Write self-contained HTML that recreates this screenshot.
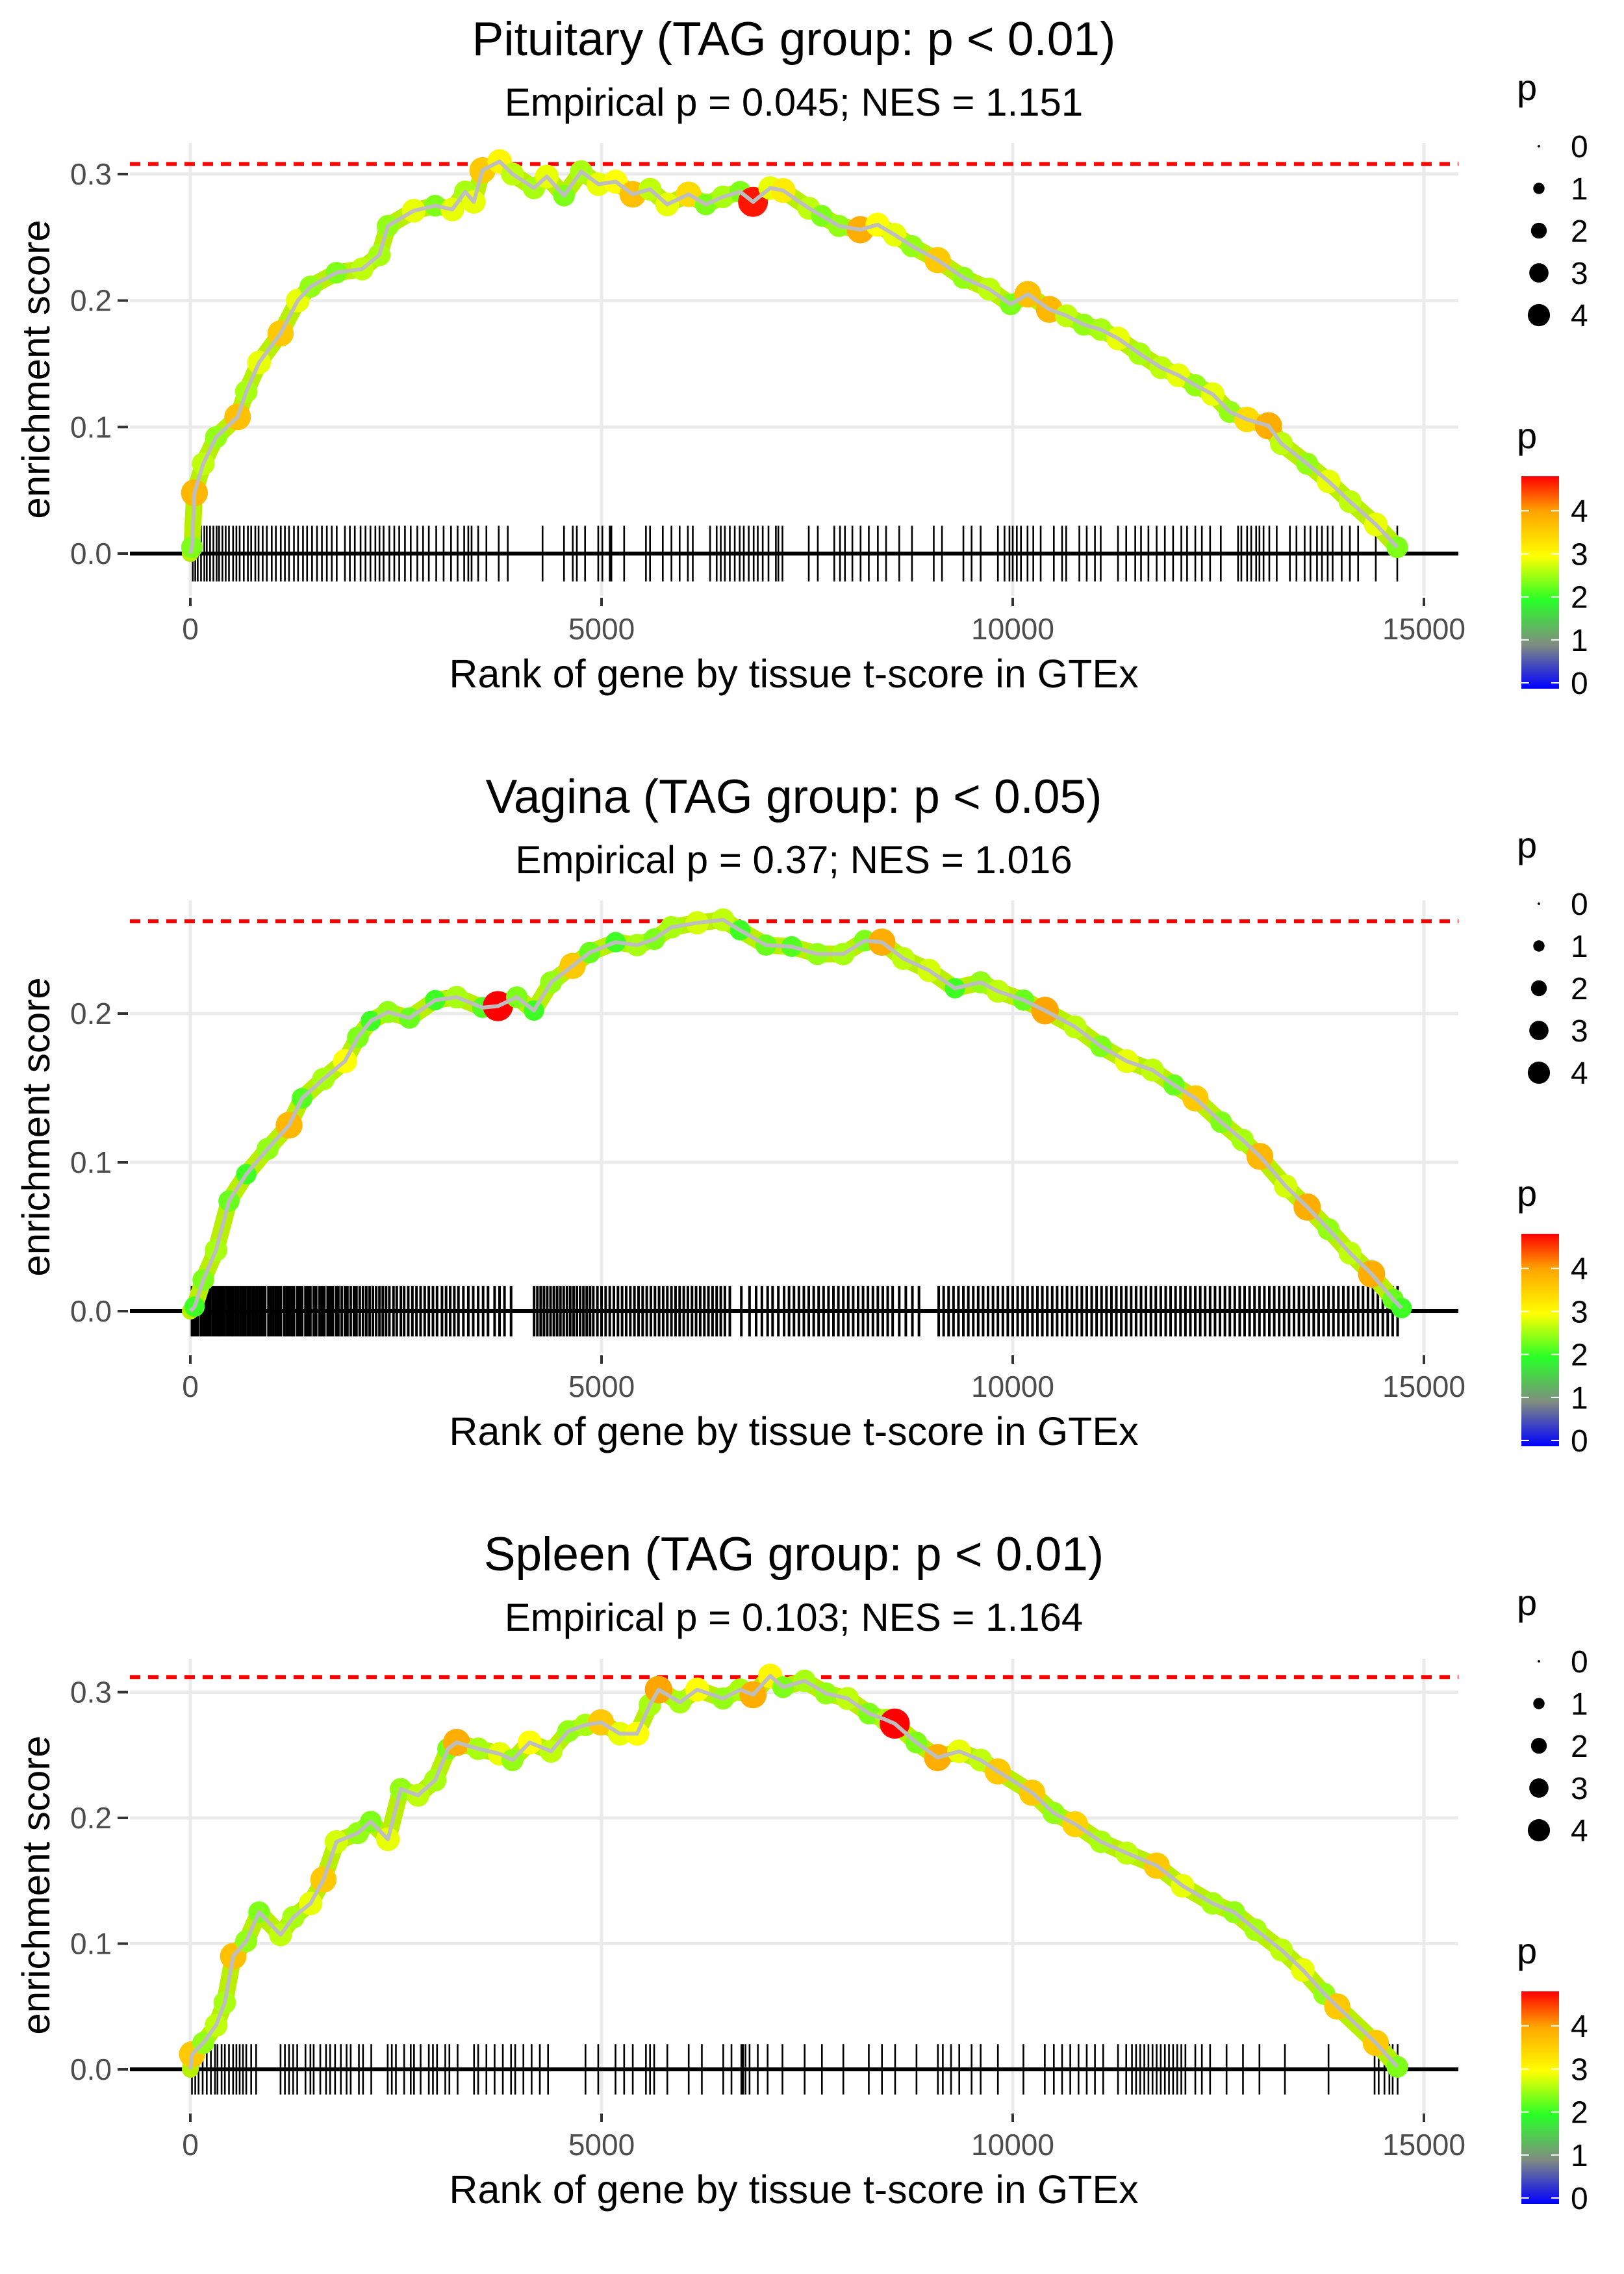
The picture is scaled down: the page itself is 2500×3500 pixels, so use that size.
<!DOCTYPE html>
<html><head><meta charset="utf-8"><style>
html,body{margin:0;padding:0;background:#fff}
svg{display:block;font-family:"Liberation Sans",sans-serif}
</style></head><body>
<svg id="fig" width="2500" height="3500" viewBox="0 0 2500 3500" xmlns="http://www.w3.org/2000/svg"></svg>
<script>
// ---------- data ----------
const titles = ["Pituitary (TAG group: p < 0.01)","Vagina (TAG group: p < 0.05)","Spleen (TAG group: p < 0.01)"];
const subtitles = ["Empirical p = 0.045; NES = 1.151","Empirical p = 0.37; NES = 1.016","Empirical p = 0.103; NES = 1.164"];
const maxES = [0.308, 0.262, 0.312];
const xTicks = [0,5000,10000,15000];
const yTicks1 = [0,0.1,0.2,0.3];
const yTicks2 = [0,0.1,0.2];
const yTicks3 = [0,0.1,0.2,0.3];

const rank1 = [20,50,157,313,575,680,836,1097,1306,1462,1776,2089,2298,2402,2716,2977,3186,3343,3447,3552,3761,3917,4178,4335,4544,4753,4962,5171,5380,5589,5798,6059,6268,6477,6686,6842,7051,7208,7521,7677,7886,8147,8356,8565,8774,9087,9401,9714,9975,10184,10445,10654,10863,11072,11281,11542,11804,12013,12222,12431,12640,12849,13110,13267,13580,13841,14102,14415,14676];
const es1 = [.005,.048,.071,.092,.108,.128,.151,.174,.2,.211,.222,.225,.236,.259,.271,.275,.272,.286,.278,.303,.310,.300,.289,.298,.283,.302,.292,.294,.284,.288,.276,.284,.276,.282,.286,.278,.289,.287,.273,.267,.259,.256,.260,.252,.243,.232,.218,.209,.197,.205,.193,.188,.181,.177,.170,.158,.147,.141,.133,.126,.112,.106,.101,.087,.071,.057,.041,.023,.005];
const pv1 = [2.4,3.8,2.7,2.5,3.7,2.6,2.9,3.6,2.9,2.5,2.4,2.7,2.6,2.5,2.9,2.4,2.9,2.6,2.9,3.6,3.1,2.7,2.6,2.9,2.4,2.6,2.9,3.0,3.7,2.7,2.9,3.4,2.4,2.6,2.4,4.7,2.9,3.2,2.7,2.4,2.5,3.9,3.0,2.9,2.5,3.6,2.5,2.7,2.4,3.7,3.8,2.7,2.5,2.6,2.9,2.6,2.7,2.9,2.5,2.9,2.5,3.4,3.9,2.7,2.5,2.9,2.7,2.9,2.4];
const hits1 = [30,60,90,130,170,200,240,280,320,350,390,430,470,520,560,600,650,700,740,790,830,880,930,990,1040,1100,1150,1200,1260,1310,1370,1420,1480,1540,1600,1660,1720,1780,1880,1940,2000,2070,2130,2190,2250,2300,2350,2420,2480,2540,2610,2680,2760,2830,2900,2990,3080,3170,3250,3330,3380,3420,3500,3600,3750,3860,4283,4544,4650,4700,4800,4960,5010,5100,5120,5275,5540,5590,5745,5850,5950,6050,6110,6320,6400,6450,6500,6560,6620,6680,6730,6790,6850,6900,6960,7030,7120,7150,7200,7520,7630,7830,7900,7960,8050,8150,8250,8360,8460,8620,8775,9040,9140,9400,9500,9610,9820,9900,9960,10000,10050,10100,10180,10250,10340,10500,10600,10650,10810,10900,11000,11070,11280,11380,11490,11560,11650,11750,11850,11950,12050,12120,12220,12300,12400,12530,12740,12780,12850,12900,12960,13000,13050,13120,13210,13370,13450,13550,13620,13700,13760,13830,13890,14000,14100,14200,14415,14676];

const rank2 = [52,157,313,470,680,940,1201,1358,1619,1880,2037,2194,2403,2664,2977,3238,3552,3740,3970,4178,4387,4648,4857,5171,5432,5641,5850,6163,6477,6686,6999,7312,7625,7939,8200,8409,8670,8983,9297,9610,9819,10132,10393,10759,11072,11386,11699,11960,12222,12535,12796,13005,13319,13580,13841,14102,14363,14624,14729];
const es2 = [.003,.021,.041,.074,.092,.109,.125,.143,.156,.168,.184,.195,.201,.197,.209,.211,.204,.205,.211,.202,.221,.232,.241,.248,.246,.250,.258,.261,.263,.256,.246,.245,.240,.240,.249,.248,.237,.229,.217,.221,.215,.209,.202,.191,.178,.168,.162,.152,.143,.127,.115,.104,.084,.070,.055,.039,.025,.008,.002];
const pv2 = [2.1,2.4,2.6,2.3,2.1,2.5,3.8,2.2,2.6,3.0,2.4,2.1,2.5,2.3,2.1,2.6,2.2,4.8,2.4,2.1,2.5,3.6,2.3,2.1,2.6,2.4,2.6,2.8,2.7,2.1,2.3,2.2,2.5,2.6,2.4,3.9,2.7,2.8,2.1,2.5,2.7,2.3,4.0,2.7,2.4,2.9,2.7,2.3,3.6,2.4,2.6,3.8,2.8,3.9,2.5,2.7,3.9,2.3,2.1];
const hits2 = [20,45,70,95,130,160,185,210,240,270,300,330,355,380,410,440,470,500,520,550,580,610,640,670,700,730,760,790,820,850,880,910,950,980,1010,1040,1070,1100,1140,1170,1200,1230,1260,1300,1330,1360,1400,1430,1460,1500,1530,1570,1600,1630,1670,1700,1730,1770,1800,1840,1880,1910,1950,1990,2020,2060,2100,2140,2180,2220,2260,2300,2340,2380,2420,2470,2510,2560,2600,2650,2700,2750,2800,2850,2900,2950,3000,3060,3110,3160,3210,3260,3320,3380,3440,3500,3560,3620,3700,3760,3820,3900,4180,4220,4260,4300,4340,4380,4420,4460,4500,4540,4580,4620,4660,4700,4740,4780,4820,4860,4900,4950,5000,5050,5100,5150,5200,5250,5300,5350,5400,5450,5500,5550,5600,5650,5700,5750,5800,5850,5900,5950,6000,6050,6100,6150,6200,6250,6300,6350,6400,6450,6500,6560,6700,6800,6880,6950,7020,7080,7150,7220,7280,7340,7400,7460,7520,7580,7640,7700,7760,7820,7880,7940,8000,8060,8120,8180,8240,8300,8360,8420,8480,8540,8620,8700,8780,8860,9100,9160,9220,9280,9340,9400,9460,9520,9580,9640,9700,9760,9820,9880,9940,10000,10060,10120,10180,10240,10300,10360,10420,10480,10540,10600,10660,10720,10780,10840,10900,10960,11020,11080,11140,11200,11260,11320,11380,11440,11500,11560,11620,11680,11740,11800,11860,11920,11980,12040,12100,12160,12220,12280,12340,12400,12460,12520,12580,12640,12700,12760,12820,12880,12940,13000,13060,13120,13180,13240,13300,13360,13420,13480,13540,13600,13660,13720,13780,13840,13900,13960,14020,14080,14140,14200,14260,14320,14380,14440,14500,14560,14620,14680];

const rank3 = [21,157,313,418,522,680,836,1097,1253,1462,1619,1776,2037,2194,2403,2559,2768,2977,3134,3238,3500,3761,3917,4126,4387,4596,4805,4993,5223,5432,5589,5694,5954,6163,6477,6686,6842,7051,7208,7469,7730,7991,8252,8461,8565,8827,9087,9348,9610,9819,10236,10497,10759,11072,11386,11751,12065,12431,12692,12953,13267,13528,13789,13946,14415,14676];
const es3 = [.012,.021,.035,.053,.090,.102,.125,.107,.121,.132,.151,.181,.188,.197,.183,.223,.218,.230,.255,.260,.255,.251,.246,.260,.253,.269,.274,.276,.267,.267,.290,.302,.292,.302,.295,.302,.298,.313,.304,.309,.299,.295,.283,.278,.275,.260,.248,.253,.246,.237,.220,.204,.195,.181,.172,.162,.146,.132,.125,.111,.095,.079,.060,.050,.021,.002];
const pv3 = [3.6,2.5,2.7,2.6,3.7,2.5,2.4,2.7,2.6,2.9,3.6,2.8,2.5,2.4,2.9,2.5,2.7,2.6,2.4,3.9,2.6,2.9,2.5,3.0,2.7,2.5,2.6,3.6,2.9,3.0,2.6,4.0,2.6,3.0,2.5,2.6,3.9,3.1,2.4,2.6,2.5,2.7,2.4,2.6,4.8,2.4,3.9,2.9,2.7,3.6,3.6,2.5,3.5,2.6,2.7,3.6,2.9,2.6,2.5,2.6,2.7,2.9,2.5,3.6,3.6,2.4];
const hits3 = [20,60,100,150,200,250,300,330,380,420,470,520,560,600,640,680,740,800,1097,1150,1200,1250,1300,1400,1460,1500,1580,1650,1700,1760,1830,1900,1950,2050,2100,2200,2400,2450,2500,2600,2680,2720,2800,2900,2950,3000,3100,3150,3250,3450,3500,3600,3700,3800,3900,3950,4050,4150,4250,4350,4805,4960,5170,5275,5380,5540,5590,5640,5800,6060,6220,6480,6580,6700,6720,6750,6800,6900,7020,7200,7470,7680,7940,8250,8410,8570,8830,9090,9150,9250,9350,9500,9610,9820,10130,10390,10500,10600,10700,10800,10900,11000,11100,11280,11380,11450,11500,11550,11600,11650,11700,11750,11800,11850,11900,11950,12000,12050,12100,12220,12300,12400,12600,12800,13000,13310,13840,14400,14450,14520,14580,14620,14680];

// ---------- layout ----------
const NS = "http://www.w3.org/2000/svg";
const svg = document.getElementById('fig');
function mk(tag, attrs, parent){ const e=document.createElementNS(NS,tag); for(const k in attrs) e.setAttribute(k,attrs[k]); (parent||svg).appendChild(e); return e; }

const PX0 = 200, PX1 = 2245;
const xScale = r => 293 + r*(2192-293)/15000;
const panels = [
  {off:0, y0:852, k:1947, rank:rank1, es:es1, pv:pv1, hits:hits1, yt:yTicks1, tickH:0.022, tw:2.6},
  {off:1166, y0:2018, k:2290, rank:rank2, es:es2, pv:pv2, hits:hits2, yt:yTicks2, tickH:0.017, tw:4},
  {off:2332, y0:3185, k:1935, rank:rank3, es:es3, pv:pv3, hits:hits3, yt:yTicks3, tickH:0.020, tw:2.6}
];
const stops = [[0,[0,0,255]],[1,[128,140,128]],[2,[40,255,40]],[3,[255,255,0]],[4,[255,165,0]],[4.8,[255,0,0]]];
function pColor(p){
  if(p<=stops[0][0]) return 'rgb(0,0,255)';
  for(let i=1;i<stops.length;i++){ if(p<=stops[i][0]){ const a=stops[i-1],b=stops[i]; const t=(p-a[0])/(b[0]-a[0]); const c=a[1].map((v,j)=>Math.round(v+(b[1][j]-v)*t)); return `rgb(${c.join(',')})`; } }
  return 'rgb(255,0,0)';
}
const pRadius = p => 1.12*Math.sqrt(16+86*p);

panels.forEach((P,idx)=>{
  const g = mk('g',{});
  
  
  const yS = v => P.y0 - v*P.k;
  const top = P.y0-632, bot = P.y0+65;
  const t = mk('text',{x:1222,y:P.off+85,'text-anchor':'middle','font-size':73,fill:'#000'},g); t.textContent=titles[idx];
   
  const st = mk('text',{x:1222,y:P.off+178,'text-anchor':'middle','font-size':60,fill:'#000'},g); st.textContent=subtitles[idx];
   
  xTicks.forEach(v=>{ const l=mk('line',{x1:xScale(v),x2:xScale(v),y1:top,y2:bot,stroke:'#ebebeb','stroke-width':5},g);
      });
  P.yt.forEach(v=>{ const l=mk('line',{x1:PX0,x2:PX1,y1:yS(v),y2:yS(v),stroke:'#ebebeb','stroke-width':5},g);
      });
  P.yt.forEach(v=>{
    const tl=mk('text',{x:172,y:yS(v)+16,'text-anchor':'end','font-size':46,fill:'#4d4d4d'},g); tl.textContent=v.toFixed(1);
     
    const tm=mk('line',{x1:181,x2:197,y1:yS(v),y2:yS(v),stroke:'#333','stroke-width':4},g);
     
  });
  xTicks.forEach(v=>{
    const tl=mk('text',{x:xScale(v),y:P.y0+132,'text-anchor':'middle','font-size':46,fill:'#4d4d4d'},g); tl.textContent=String(v);
     
    const tm=mk('line',{x1:xScale(v),x2:xScale(v),y1:bot+3,y2:bot+16,stroke:'#333','stroke-width':4},g);
     
  });
  const xt=mk('text',{x:1222,y:P.y0+206,'text-anchor':'middle','font-size':61,fill:'#000'},g); xt.textContent='Rank of gene by tissue t-score in GTEx';
   
  const yc = (top+bot)/2;
  const yt=mk('text',{x:0,y:0,'text-anchor':'middle','font-size':60,fill:'#000',transform:`translate(76,${yc}) rotate(-90)`},g); yt.textContent='enrichment score';
   
  const dl=mk('line',{x1:PX0,x2:PX1,y1:yS(maxES[idx]),y2:yS(maxES[idx]),stroke:'#ff0000','stroke-width':6,'stroke-dasharray':'16 12'},g);
   
  const hg = mk('g',{},g);  
  P.hits.forEach(r=>{ const l=mk('line',{x1:xScale(r),x2:xScale(r),y1:yS(P.tickH),y2:yS(-P.tickH),stroke:'#000','stroke-width':P.tw},hg);
      });
  const zl=mk('line',{x1:PX0,x2:PX1,y1:P.y0,y2:P.y0,stroke:'#000','stroke-width':6},g);
   
  const pts = [[xScale(0),yS(0)]].concat(P.rank.map((r,i)=>[xScale(r),yS(P.es[i])]));
  const ptsStr = pts.map(q=>q.join(',')).join(' ');
  // dense marker band under points
  const band = mk('polyline',{points:ptsStr,fill:'none',stroke:'#b8f000','stroke-width':26,'stroke-linejoin':'round','stroke-linecap':'round'},g);
   
  const pg = mk('g',{},g);  
  P.rank.forEach((r,i)=>{ const c=mk('circle',{cx:xScale(r),cy:yS(P.es[i]),r:pRadius(P.pv[i]),fill:pColor(P.pv[i])},pg);
      });
  const pl = mk('polyline',{points:ptsStr,fill:'none',stroke:'#bebebe','stroke-width':6,'stroke-linejoin':'round'},g);
   

  const lg = mk('g',{},g);  
  const lt = mk('text',{x:2335,y:P.off+154,'font-size':56,fill:'#000'},lg); lt.textContent='p';
   
  [0,1,2,3,4].forEach((v,j)=>{
    const cy = P.off+225+j*65;
    const c=mk('circle',{cx:2369,cy:cy,r:Math.sqrt(4+80*v)*0.95,fill:'#000'},lg);
     
    const tx=mk('text',{x:2418,y:cy+17,'font-size':48,fill:'#000'},lg); tx.textContent=String(v);
     
  });
  const cg = mk('g',{},g);  
  const ct = mk('text',{x:2335,y:P.off+690,'font-size':56,fill:'#000'},cg); ct.textContent='p';
   
  const gid='grad'+idx;
  const defs = mk('defs',{},cg);
  const lgd = mk('linearGradient',{id:gid,x1:0,y1:1,x2:0,y2:0},defs);
  stops.forEach(s=>mk('stop',{offset:(s[0]/4.8),'stop-color':`rgb(${s[1].join(',')})`},lgd));
  const barTop = P.off+733, barBot = P.off+1060;
  const cb = mk('rect',{x:2342,y:barTop,width:58,height:barBot-barTop,fill:`url(#${gid})`},cg);
   
  const vy = v => P.off+1051 - v*66.2;
  [0,1,2,3,4].forEach(v=>{
    mk('line',{x1:2342,x2:2354,y1:vy(v),y2:vy(v),stroke:'#fff','stroke-width':2},cg);
    mk('line',{x1:2388,x2:2400,y1:vy(v),y2:vy(v),stroke:'#fff','stroke-width':2},cg);
    const tx=mk('text',{x:2418,y:vy(v)+17,'font-size':48,fill:'#000'},cg); tx.textContent=String(v);
     
  });
});
</script>
</body></html>
